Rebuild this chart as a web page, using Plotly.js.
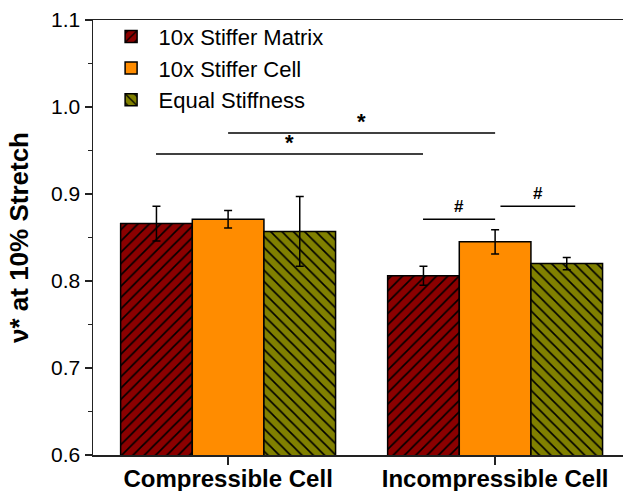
<!DOCTYPE html>
<html>
<head>
<meta charset="utf-8">
<script src="https://cdn.plot.ly/plotly-3.0.1.min.js"></script>
<style>html,body{margin:0;padding:0;background:#fff;}</style>
</head>
<body>
<div id="chart" style="width:623px;height:491px;"></div>
<script>
// ---- data ----
const categories = ["Compressible Cell", "Incompressible Cell"];
const seriesNames = ["10x Stiffer Matrix", "10x Stiffer Cell", "Equal Stiffness"];
const stifferMatrix = [0.866, 0.806];
const stifferMatrixErr = [0.020, 0.011];
const stifferCell = [0.871, 0.845];
const stifferCellErr = [0.010, 0.014];
const equalStiffness = [0.857, 0.820];
const equalStiffnessErr = [0.040, 0.007];
const yTickVals = [0.6, 0.7, 0.8, 0.9, 1.0, 1.1];
const yTickText = ["0.6", "0.7", "0.8", "0.9", "1.0", "1.1"];
// significance brackets: [x0, x1, y, label] (x in category units)
const sigX0 = [0.0, -0.27, 0.73, 1.02];
const sigX1 = [1.0, 0.73, 1.0, 1.3];
const sigY = [0.970, 0.946, 0.871, 0.886];
const sigLabel = ["*", "*", "#", "#"];

const colors = ["#8B0000", "#FF8C00", "#808000"];
const shapesP = ["/", "", "\\"];
const vals = [stifferMatrix, stifferCell, equalStiffness];
const errs = [stifferMatrixErr, stifferCellErr, equalStiffnessErr];

const traces = seriesNames.map((n, i) => ({
  type: "bar",
  name: n,
  x: categories,
  y: vals[i],
  error_y: {type: "data", array: errs[i], visible: true, color: "#000", thickness: 1.5, width: 4},
  marker: {
    color: colors[i],
    line: {color: "#000", width: 1.5},
    pattern: {shape: shapesP[i], fgcolor: "#000", bgcolor: colors[i], size: 8, solidity: 0.2}
  }
}));

const shapes = sigY.map((y, i) => ({
  type: "line", xref: "x", yref: "y", x0: sigX0[i], x1: sigX1[i], y0: y, y1: y,
  line: {color: "#000", width: 1.5}
}));
const annotations = sigY.map((y, i) => ({
  xref: "x", yref: "y", x: (sigX0[i] + sigX1[i]) / 2, y: y, text: sigLabel[i],
  showarrow: false, yanchor: "bottom", yshift: sigLabel[i] === "*" ? -3 : 1,
  font: {family: "Liberation Sans, Arial, sans-serif", size: sigLabel[i] === "*" ? 22 : 17, weight: "bold", color: "#000"}
}));

const layout = {
  width: 623, height: 491,
  margin: {l: 93, r: 0, t: 20, b: 36},
  paper_bgcolor: "#fff", plot_bgcolor: "#fff",
  barmode: "group", bargap: 0.195, bargroupgap: 0,
  font: {family: "Liberation Sans, Arial, sans-serif", color: "#000"},
  showlegend: true,
  legend: {x: 0.02, y: 1.01, xanchor: "left", yanchor: "top", bgcolor: "rgba(0,0,0,0)",
           font: {size: 22, color: "#000"}, tracegroupgap: 0, itemwidth: 45},
  xaxis: {
    type: "category", range: [-0.506, 1.479],
    showline: true, linecolor: "#222", linewidth: 1.5, mirror: true,
    ticks: "outside", ticklen: 8, tickwidth: 1.5, tickcolor: "#222",
    ticklabelstandoff: -6,
    showgrid: false, zeroline: false,
    tickfont: {size: 24, family: "Liberation Sans, Arial, sans-serif", weight: "bold", color: "#000"}
  },
  yaxis: {
    range: [0.6, 1.1], tickvals: yTickVals, ticktext: yTickText,
    showline: true, linecolor: "#222", linewidth: 1.5,
    ticks: "outside", ticklen: 7, tickwidth: 1.5, tickcolor: "#222",
    minor: {dtick: 0.05, ticks: "outside", ticklen: 4, tickwidth: 1.5, tickcolor: "#222", showgrid: false},
    showgrid: false, zeroline: false,
    tickfont: {size: 21, color: "#000"},
    title: {text: "ν* at 10% Stretch", standoff: 15,
            font: {size: 26, family: "Liberation Sans, Arial, sans-serif", weight: "bold", color: "#000"}}
  },
  shapes: shapes,
  annotations: annotations
};

Plotly.newPlot("chart", traces, layout, {displayModeBar: false, staticPlot: true});
</script>
</body>
</html>
